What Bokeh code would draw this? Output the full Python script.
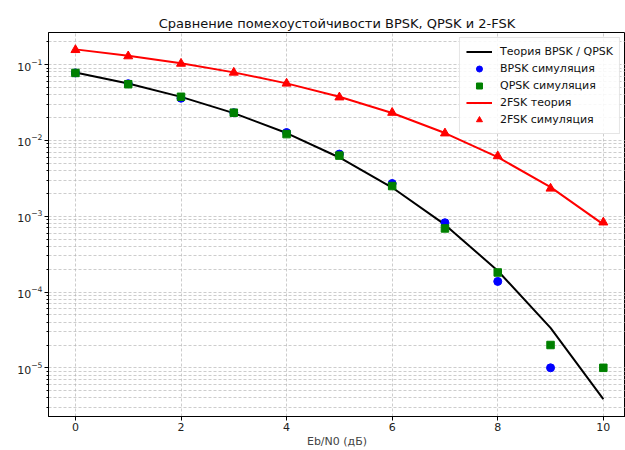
from bokeh.plotting import figure
from bokeh.models import (FixedTicker, LogTickFormatter, Range1d, Legend, LegendItem)
from bokeh.embed import file_html
from bokeh.resources import INLINE

# ---- data ----
ebn0 = [0, 1, 2, 3, 4, 5, 6, 7, 8, 9, 10]
ber_theory = [7.86e-2, 5.63e-2, 3.75e-2, 2.29e-2, 1.25e-2, 5.95e-3, 2.39e-3, 7.73e-4, 1.91e-4, 3.36e-5, 3.87e-6]
bpsk_x = [0, 1, 2, 3, 4, 5, 6, 7, 8, 9]
bpsk_sim = [7.76e-2, 5.60e-2, 3.60e-2, 2.32e-2, 1.27e-2, 6.6e-3, 2.7e-3, 8.2e-4, 1.38e-4, 1.0e-5]
qpsk_sim = [7.76e-2, 5.51e-2, 3.76e-2, 2.32e-2, 1.21e-2, 6.3e-3, 2.5e-3, 6.9e-4, 1.81e-4, 2.0e-5, 1.0e-5]
fsk_theory = [1.587e-1, 1.309e-1, 1.040e-1, 7.89e-2, 5.65e-2, 3.77e-2, 2.30e-2, 1.25e-2, 6.0e-3, 2.42e-3, 7.8e-4]
fsk_sim = [1.56e-1, 1.29e-1, 1.03e-1, 7.85e-2, 5.63e-2, 3.70e-2, 2.32e-2, 1.24e-2, 6.2e-3, 2.32e-3, 8.3e-4]

x_ticks = [0, 2, 4, 6, 8, 10]
y_major = [1e-5, 1e-4, 1e-3, 1e-2, 1e-1]
y_minor = [m * 10.0 ** e for e in range(-6, 0) for m in range(2, 10)]

title_text = "Сравнение помехоустойчивости BPSK, QPSK и 2-FSK"
x_label = "Eb/N0 (дБ)"
labels = ["Теория BPSK / QPSK", "BPSK симуляция", "QPSK симуляция", "2FSK теория", "2FSK симуляция"]

FONT = "DejaVu Sans"

p = figure(width=625, height=450, y_axis_type="log",
           x_range=Range1d(-0.51, 10.42), y_range=Range1d(2.28e-6, 0.265),
           output_backend="svg", toolbar_location=None,
           min_border_left=48, min_border_right=0, min_border_top=32, min_border_bottom=30)

p.title.text = title_text
p.title.align = "center"
p.title.text_font = FONT
p.title.text_font_size = "13px"
p.title.text_font_style = "normal"
p.title.text_color = "#111111"
p.title.standoff = 4

p.outline_line_color = "black"
p.outline_line_width = 1
p.background_fill_color = "white"
p.border_fill_color = "white"

# axes
p.xaxis.ticker = FixedTicker(ticks=x_ticks)
p.yaxis.ticker = FixedTicker(ticks=y_major, minor_ticks=y_minor)
p.yaxis.formatter = LogTickFormatter()
p.xaxis.axis_label = x_label
p.xaxis.axis_label_text_font = FONT
p.xaxis.axis_label_text_font_size = "11px"
p.xaxis.axis_label_text_font_style = "normal"
p.xaxis.axis_label_standoff = 1
for ax in (p.xaxis, p.yaxis):
    ax.major_label_text_font = FONT
    ax.major_label_text_font_size = "11px"
    ax.major_label_text_color = "#222222"
    ax.axis_line_color = "black"
    ax.major_tick_line_color = "black"
    ax.major_tick_in = 0
    ax.major_tick_out = 4
    ax.major_label_standoff = 2
p.xaxis.minor_tick_line_color = None
p.yaxis.minor_tick_line_color = "black"
p.yaxis.minor_tick_in = 0
p.yaxis.minor_tick_out = 2

# grid
for g in (p.xgrid, p.ygrid):
    g.grid_line_color = "#b0b0b0"
    g.grid_line_alpha = 0.8
    g.grid_line_dash = "3 2"
    g.grid_line_width = 0.8
p.ygrid.minor_grid_line_color = "#b0b0b0"
p.ygrid.minor_grid_line_alpha = 0.8
p.ygrid.minor_grid_line_dash = "3 2"
p.ygrid.minor_grid_line_width = 0.8

# glyphs
r1 = p.line(ebn0, ber_theory, line_color="black", line_width=2)
r2 = p.scatter(bpsk_x, bpsk_sim, marker="circle", size=8, fill_color="#0000ff", line_color="#0000ff")
r3 = p.scatter(ebn0, qpsk_sim, marker="square", size=7.5, fill_color="#008000", line_color="#008000")
r4 = p.line(ebn0, fsk_theory, line_color="#ff0000", line_width=2)
r5 = p.scatter(ebn0, fsk_sim, marker="triangle", size=9, fill_color="#ff0000", line_color="#ff0000")

legend = Legend(items=[LegendItem(label=l, renderers=[r]) for l, r in zip(labels, [r1, r2, r3, r4, r5])],
                location="top_right")
legend.label_text_font = FONT
legend.label_text_font_size = "11px"
legend.label_text_color = "#111111"
legend.glyph_width = 26
legend.glyph_height = 15
legend.label_height = 15
legend.label_standoff = 8
legend.spacing = 2
legend.padding = 6
legend.margin = 5
legend.border_line_color = "#cccccc"
legend.background_fill_alpha = 0.85
p.add_layout(legend)

open("out.html", "w").write(file_html(p, INLINE))
